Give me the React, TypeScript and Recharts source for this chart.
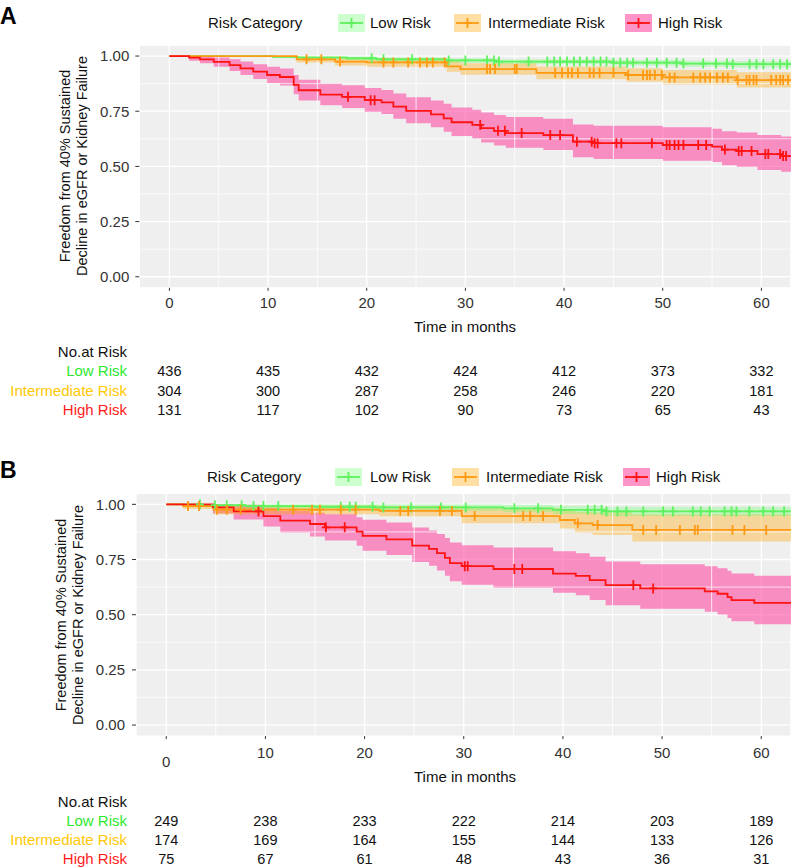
import React from 'react';
import { ComposedChart, XAxis, YAxis, CartesianGrid, Line, Area, ReferenceLine } from 'recharts';

const FONT = '"Liberation Sans", Arial, Helvetica, sans-serif';

// ---------- shared axis / label data ----------
const timeTicks = [0, 10, 20, 30, 40, 50, 60];
const survTicks = [0, 0.25, 0.5, 0.75, 1];
const minorTimeTicks = [5, 15, 25, 35, 45, 55];
const minorSurvTicks = [0.125, 0.375, 0.625, 0.875];
const groupNames = ['Low Risk', 'Intermediate Risk', 'High Risk'];
const legendTitle = 'Risk Category';
const xTitle = 'Time in months';
const yTitleLines = ['Freedom from 40% Sustained', 'Decline in eGFR or Kidney Failure'];
const riskHeader = 'No.at Risk';

// ---------- Panel A ----------
const aLowTimes = [0, 10.5, 13, 18, 21, 28, 33, 45, 52, 57, 63];
const aLowSurv = [1, 0.996, 0.993, 0.99, 0.985, 0.98, 0.975, 0.97, 0.966, 0.963, 0.96];
const aLowLower = [1, 0.99, 0.985, 0.981, 0.975, 0.969, 0.963, 0.957, 0.952, 0.948, 0.944];
const aLowUpper = [1, 1, 1, 0.998, 0.994, 0.99, 0.986, 0.982, 0.979, 0.977, 0.975];
const aLowCensor = [20.5, 21.7, 24.6, 28.3, 30, 32.2, 32.9, 33.4, 36.4, 38.3, 39, 39.6, 40.3, 41, 41.6, 42.3, 43, 43.7, 44.3, 45, 45.7, 46.4, 47, 48.4, 49.4, 50.4, 51.4, 52.1, 54.1, 55.4, 56.5, 57.1, 58.8, 59.5, 60.2, 61.2, 61.9, 62.6];

const aIntTimes = [0, 12.9, 16.8, 20, 28.1, 29.5, 37.2, 46.3, 50, 57.5, 63];
const aIntSurv = [1, 0.985, 0.975, 0.971, 0.953, 0.941, 0.924, 0.914, 0.903, 0.891, 0.886];
const aIntLower = [1, 0.971, 0.957, 0.951, 0.929, 0.915, 0.895, 0.883, 0.871, 0.858, 0.852];
const aIntUpper = [1, 0.998, 0.993, 0.991, 0.977, 0.967, 0.953, 0.945, 0.937, 0.927, 0.922];
const aIntCensor = [13.9, 15.4, 17.3, 21.7, 22.7, 24.2, 25.4, 26.1, 26.7, 27.9, 32.2, 32.5, 33, 35, 35.2, 39.1, 39.8, 40.4, 40.8, 41.4, 42.6, 43, 43.6, 45, 46.5, 48, 48.4, 48.7, 49.2, 49.9, 50.7, 51.2, 53.1, 53.8, 54.3, 54.8, 55.5, 56.1, 56.6, 57.6, 58.5, 58.8, 59.2, 59.5, 61, 61.5, 61.9, 62.2, 62.7];

const aHighTimes = [0, 2, 3.1, 4.5, 6.1, 7.2, 8.5, 9.9, 11.2, 12.6, 13.1, 15.3, 17.5, 19.8, 21.5, 22.7, 24, 26.5, 27.8, 28.6, 30.7, 31.6, 32.9, 34.1, 37.9, 40.9, 43, 50, 55, 56, 57.5, 59.6, 62, 63];
const aHighSurv = [1, 0.993, 0.985, 0.974, 0.959, 0.944, 0.929, 0.914, 0.905, 0.87, 0.845, 0.825, 0.815, 0.8, 0.79, 0.771, 0.752, 0.736, 0.718, 0.7, 0.688, 0.673, 0.661, 0.651, 0.642, 0.612, 0.605, 0.597, 0.59, 0.576, 0.57, 0.556, 0.547, 0.545];
const aHighLower = [1, 0.979, 0.967, 0.952, 0.932, 0.914, 0.896, 0.878, 0.867, 0.827, 0.799, 0.777, 0.765, 0.748, 0.737, 0.716, 0.695, 0.677, 0.657, 0.638, 0.625, 0.608, 0.595, 0.584, 0.574, 0.541, 0.533, 0.526, 0.52, 0.505, 0.498, 0.484, 0.476, 0.474];
const aHighUpper = [1, 1, 0.998, 0.993, 0.985, 0.975, 0.963, 0.951, 0.944, 0.914, 0.893, 0.876, 0.868, 0.855, 0.846, 0.83, 0.813, 0.799, 0.784, 0.767, 0.757, 0.744, 0.733, 0.724, 0.716, 0.69, 0.684, 0.677, 0.671, 0.659, 0.654, 0.642, 0.635, 0.634];
const aHighCensor = [18.1, 20.4, 20.8, 31.5, 33.3, 34, 35.7, 38.6, 39.6, 41.3, 42.8, 43.1, 43.4, 45.3, 45.8, 48.9, 50.4, 50.7, 51.2, 51.6, 52.1, 53.6, 54.4, 56.3, 57.7, 58, 59, 60.4, 60.7, 61.9, 62.2, 62.5];

const aRiskLow = [436, 435, 432, 424, 412, 373, 332];
const aRiskInt = [304, 300, 287, 258, 246, 220, 181];
const aRiskHigh = [131, 117, 102, 90, 73, 65, 43];

// ---------- Panel B ----------
const bLowTimes = [0, 3.5, 8, 15, 21, 34, 39, 44, 63];
const bLowSurv = [1, 0.996, 0.992, 0.989, 0.986, 0.982, 0.975, 0.968, 0.966];
const bLowLower = [1, 0.988, 0.981, 0.976, 0.971, 0.965, 0.956, 0.947, 0.944];
const bLowUpper = [1, 1, 1, 1, 1, 0.998, 0.994, 0.989, 0.988];
const bLowCensor = [3.4, 4.9, 6.1, 7.6, 8.8, 9.8, 11.3, 17.6, 18.5, 19.1, 20.8, 21.9, 24.7, 27.7, 30.2, 35.1, 37.5, 39.8, 42.5, 43.2, 43.9, 44.4, 45.5, 46.4, 48.1, 50.1, 51.1, 53.1, 53.9, 54.8, 56.3, 57, 57.5, 58.8, 60.2, 61.2, 62.3];

const bIntTimes = [0, 1.7, 4.8, 21.5, 29.8, 39.7, 41.2, 43, 47, 63];
const bIntSurv = [1, 0.992, 0.976, 0.97, 0.947, 0.929, 0.914, 0.906, 0.884, 0.884];
const bIntLower = [1, 0.979, 0.955, 0.946, 0.914, 0.89, 0.871, 0.861, 0.832, 0.832];
const bIntUpper = [1, 1, 0.995, 0.992, 0.982, 0.975, 0.966, 0.963, 0.955, 0.955];
const bIntCensor = [2.2, 3.3, 5.1, 6.1, 7.5, 12.8, 14.7, 15.5, 17.6, 19.1, 23.6, 24.4, 27.6, 28.8, 31.1, 36, 36.7, 38, 41.5, 43.5, 48.1, 49.4, 51.8, 53.3, 53.6, 57.1, 58.3, 60.5];

const bHighTimes = [0, 4.7, 6.8, 9.8, 11.5, 14.5, 16, 19.2, 19.8, 22.2, 24.8, 26.5, 27.3, 28.1, 28.6, 29.8, 33, 39, 41.3, 42.7, 44.3, 47.8, 54.3, 55.6, 56.6, 57, 59.3, 63];
const bHighSurv = [1, 0.986, 0.968, 0.947, 0.926, 0.911, 0.896, 0.876, 0.857, 0.841, 0.813, 0.798, 0.779, 0.757, 0.734, 0.72, 0.707, 0.686, 0.676, 0.657, 0.634, 0.619, 0.606, 0.595, 0.58, 0.566, 0.554, 0.554];
const bHighLower = [1, 0.959, 0.931, 0.9, 0.872, 0.854, 0.836, 0.812, 0.79, 0.771, 0.739, 0.722, 0.7, 0.676, 0.651, 0.636, 0.621, 0.599, 0.588, 0.567, 0.543, 0.527, 0.513, 0.501, 0.485, 0.47, 0.457, 0.457];
const bHighUpper = [1, 1, 0.998, 0.985, 0.97, 0.962, 0.955, 0.942, 0.93, 0.918, 0.895, 0.882, 0.866, 0.848, 0.827, 0.815, 0.804, 0.787, 0.778, 0.762, 0.741, 0.729, 0.719, 0.71, 0.699, 0.687, 0.677, 0.677];
const bHighCensor = [9.3, 16.1, 18, 30.1, 30.4, 35.1, 35.9, 47.1, 49.1];

const bRiskLow = [249, 238, 233, 222, 214, 203, 189];
const bRiskInt = [174, 169, 164, 155, 144, 133, 126];
const bRiskHigh = [75, 67, 61, 48, 43, 36, 31];

// ---------- styles ----------
const lineColors = ['#5FF25F', '#FF9A12', '#FF1414'];
const bandColors = ['#66FF66', '#FFA500', '#FF3D9A'];
const bandOpacity = [0.32, 0.36, 0.55];
const tableColors = ['#2EE82E', '#FFC800', '#FF1A1A'];

type Series = { times: number[]; surv: number[]; lower: number[]; upper: number[]; censor: number[] };

const curveData = (s: Series) => s.times.map((t, i) => ({ t, s: s.surv[i], ci: [s.lower[i], s.upper[i]] }));
const stepAt = (s: Series, t: number) => {
  let v = s.surv[0];
  for (let i = 0; i < s.times.length; i++) if (s.times[i] <= t) v = s.surv[i];
  return v;
};
const censorData = (s: Series) => s.censor.map((t) => ({ t, s: stepAt(s, t) }));

const makePlus = (color: string) => (p: any) => {
  const { cx, cy, index } = p;
  if (cx == null || cy == null) return <g key={index} />;
  return (
    <path key={index} d={`M${cx - 4},${cy}H${cx + 4}M${cx},${cy - 5}V${cy + 5}`} stroke={color} strokeWidth={1.8} fill="none" />
  );
};

type PanelCfg = {
  letter: string;
  top: number;
  height: number;
  marginTop: number;
  xAxisHeight: number;
  yAxisWidth: number;
  yTickMargin: number;
  series: Series[];
  risk: number[][];
  labelDy: number;
  zeroDrop: number;
  rowDy: number[];
  letterTop: number;
  legendY: number;
  legendTitleX: number;
  legendKeyX: number[];
  legendTextX: number[];
  xTitleY: number;
  yTitleX: number;
  yTitleY: number;
  rowY: number[];
};

function LegendKey({ i }: { i: number }) {
  return (
    <svg width={27} height={18} style={{ display: 'block' }}>
      <rect x={0} y={0} width={27} height={18} fill={bandColors[i]} fillOpacity={bandOpacity[i]} />
      <line x1={2} y1={9} x2={25} y2={9} stroke={lineColors[i]} strokeWidth={1.8} />
      <path d="M9.5,9H17.5M13.5,4V14" stroke={lineColors[i]} strokeWidth={1.8} fill="none" />
    </svg>
  );
}

function Panel({ cfg }: { cfg: PanelCfg }) {
  const marginBottom = cfg.height - cfg.xAxisHeight - cfg.marginTop - 242.8;
  const renderXTick = (p: any) => {
    const { x, y, payload } = p;
    const v = payload.value;
    const idx = timeTicks.indexOf(v);
    return (
      <g>
        <text x={x} y={y} dy={cfg.labelDy + (v === 0 ? cfg.zeroDrop : 0)} textAnchor="middle" fontSize={15} fill="#333" fontFamily={FONT}>
          {v}
        </text>
        {cfg.risk.map((row, r) => (
          <text key={r} x={x} y={y} dy={cfg.rowDy[r]} textAnchor="middle" fontSize={14.5} fill="#111" fontFamily={FONT}>
            {row[idx]}
          </text>
        ))}
      </g>
    );
  };
  const order = [2, 1, 0];
  return (
    <div style={{ position: 'absolute', left: 0, top: cfg.top, width: 792, height: cfg.height }}>
      <ComposedChart width={792} height={cfg.height} margin={{ top: cfg.marginTop, right: 1, bottom: marginBottom, left: 0 }}>
        <CartesianGrid fill="#EFEFEF" stroke="#FFFFFF" strokeWidth={1.3} />
        {minorTimeTicks.map((v) => (
          <ReferenceLine key={'mx' + v} x={v} stroke="#FFFFFF" strokeWidth={0.8} />
        ))}
        {minorSurvTicks.map((v) => (
          <ReferenceLine key={'my' + v} y={v} stroke="#FFFFFF" strokeWidth={0.7} />
        ))}
        <XAxis
          type="number"
          dataKey="t"
          domain={[-3.05, 63]}
          ticks={timeTicks}
          interval={0}
          allowDataOverflow
          axisLine={false}
          tickLine={{ stroke: '#333' }}
          tickSize={3}
          height={cfg.xAxisHeight}
          tick={renderXTick}
        />
        <YAxis
          type="number"
          domain={[-0.05, 1.05]}
          ticks={survTicks}
          interval={0}
          allowDataOverflow
          axisLine={false}
          tickLine={{ stroke: '#333' }}
          tickSize={4}
          tickMargin={cfg.yTickMargin}
          width={cfg.yAxisWidth}
          tickFormatter={(v: number) => v.toFixed(2)}
          tick={{ fontSize: 15, fill: '#333', fontFamily: FONT }}
        />
        {order.map((i) => (
          <Area
            key={'band' + i}
            data={curveData(cfg.series[i])}
            dataKey="ci"
            type="stepAfter"
            stroke="none"
            fill={bandColors[i]}
            fillOpacity={bandOpacity[i]}
            isAnimationActive={false}
            activeDot={false}
            legendType="none"
          />
        ))}
        {[0, 1, 2].map((i) => (
          <Line
            key={'line' + i}
            data={curveData(cfg.series[i])}
            dataKey="s"
            type="stepAfter"
            stroke={lineColors[i]}
            strokeWidth={1.8}
            dot={false}
            activeDot={false}
            isAnimationActive={false}
            legendType="none"
          />
        ))}
        {[0, 1, 2].map((i) => (
          <Line
            key={'cens' + i}
            data={censorData(cfg.series[i])}
            dataKey="s"
            stroke="none"
            strokeWidth={0}
            dot={makePlus(lineColors[i])}
            activeDot={false}
            isAnimationActive={false}
            legendType="none"
          />
        ))}
      </ComposedChart>

      {/* panel letter */}
      <div style={{ position: 'absolute', left: 0, top: cfg.letterTop, fontFamily: FONT, fontWeight: 'bold', fontSize: 23, lineHeight: '23px', color: '#000' }}>
        {cfg.letter}
      </div>

      {/* legend */}
      <div style={{ position: 'absolute', left: cfg.legendTitleX, top: cfg.legendY - 10, height: 20, lineHeight: '20px', fontFamily: FONT, fontSize: 15, color: '#111', whiteSpace: 'nowrap' }}>
        {legendTitle}
      </div>
      {[0, 1, 2].map((i) => (
        <React.Fragment key={'leg' + i}>
          <div style={{ position: 'absolute', left: cfg.legendKeyX[i], top: cfg.legendY - 9 }}>
            <LegendKey i={i} />
          </div>
          <div style={{ position: 'absolute', left: cfg.legendTextX[i], top: cfg.legendY - 10, height: 20, lineHeight: '20px', fontFamily: FONT, fontSize: 15, color: '#111', whiteSpace: 'nowrap' }}>
            {groupNames[i]}
          </div>
        </React.Fragment>
      ))}

      {/* x title */}
      <div style={{ position: 'absolute', left: 365, width: 200, textAlign: 'center', top: cfg.xTitleY - 10, height: 20, lineHeight: '20px', fontFamily: FONT, fontSize: 15, color: '#111' }}>
        {xTitle}
      </div>

      {/* y title */}
      <div
        style={{
          position: 'absolute',
          left: cfg.yTitleX,
          top: cfg.yTitleY,
          transform: 'translate(-50%, -50%) rotate(-90deg)',
          whiteSpace: 'nowrap',
          textAlign: 'center',
          fontFamily: FONT,
          fontSize: 14.5,
          lineHeight: '17px',
          color: '#111',
        }}
      >
        {yTitleLines[0]}
        <br />
        {yTitleLines[1]}
      </div>

      {/* risk table row labels */}
      {[riskHeader, ...groupNames].map((name, r) => (
        <div
          key={'row' + r}
          style={{
            position: 'absolute',
            right: 792 - 127,
            top: cfg.rowY[r] - 10,
            height: 20,
            lineHeight: '20px',
            fontFamily: FONT,
            fontSize: 15,
            color: r === 0 ? '#111' : tableColors[r - 1],
            whiteSpace: 'nowrap',
            textAlign: 'right',
          }}
        >
          {name}
        </div>
      ))}
    </div>
  );
}

const panelA: PanelCfg = {
  letter: 'A',
  top: 0,
  height: 430,
  marginTop: 45,
  xAxisHeight: 140,
  yAxisWidth: 139.3,
  yTickMargin: 6,
  series: [
    { times: aLowTimes, surv: aLowSurv, lower: aLowLower, upper: aLowUpper, censor: aLowCensor },
    { times: aIntTimes, surv: aIntSurv, lower: aIntLower, upper: aIntUpper, censor: aIntCensor },
    { times: aHighTimes, surv: aHighSurv, lower: aHighLower, upper: aHighUpper, censor: aHighCensor },
  ],
  risk: [aRiskLow, aRiskInt, aRiskHigh],
  labelDy: 15,
  zeroDrop: 0,
  rowDy: [83, 103, 122],
  letterTop: 5,
  legendY: 23,
  legendTitleX: 208,
  legendKeyX: [338, 454, 625],
  legendTextX: [370, 488, 658],
  xTitleY: 327,
  yTitleX: 74,
  yTitleY: 166,
  rowY: [352, 371, 391, 410],
};

const panelB: PanelCfg = {
  letter: 'B',
  top: 440,
  height: 428,
  marginTop: 53.3,
  xAxisHeight: 130,
  yAxisWidth: 136,
  yTickMargin: 7,
  series: [
    { times: bLowTimes, surv: bLowSurv, lower: bLowLower, upper: bLowUpper, censor: bLowCensor },
    { times: bIntTimes, surv: bIntSurv, lower: bIntLower, upper: bIntUpper, censor: bIntCensor },
    { times: bHighTimes, surv: bHighSurv, lower: bHighLower, upper: bHighUpper, censor: bHighCensor },
  ],
  risk: [bRiskLow, bRiskInt, bRiskHigh],
  labelDy: 17,
  zeroDrop: 9,
  rowDy: [85, 104, 123],
  letterTop: 19,
  legendY: 37,
  legendTitleX: 207,
  legendKeyX: [335, 452, 623],
  legendTextX: [370, 486, 656],
  xTitleY: 337,
  yTitleX: 70,
  yTitleY: 174.5,
  rowY: [362, 381, 400, 419],
};

export default function App() {
  return (
    <div style={{ position: 'absolute', left: 0, top: 0, width: 792, height: 868, background: '#FFFFFF', overflow: 'hidden' }}>
      <Panel cfg={panelA} />
      <Panel cfg={panelB} />
    </div>
  );
}
